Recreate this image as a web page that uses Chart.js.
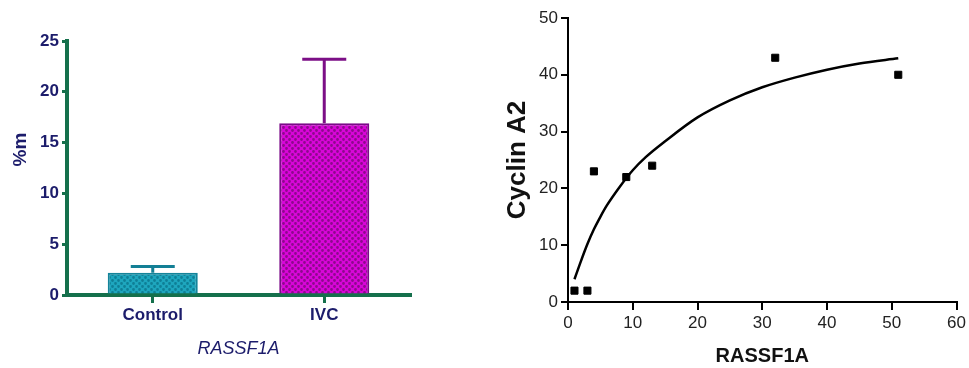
<!DOCTYPE html>
<html>
<head>
<meta charset="utf-8">
<script src="https://cdn.jsdelivr.net/npm/chart.js@4.4.0/dist/chart.umd.min.js"></script>
<style>
	body { margin: 0; background: #fff; width: 969px; height: 368px; position: relative; overflow: hidden; }
	#barChart { position: absolute; left: 0; top: 0; }
	#scatterChart { position: absolute; left: 480px; top: 0; }
</style>
</head>
<body>
<canvas id="barChart" width="440" height="368"></canvas>
<canvas id="scatterChart" width="489" height="368"></canvas>
<script>
// left panel: bar + SEM
const groups = [ 'Control', 'IVC' ]
const groupMeans = [ 2.2, 16.9 ]
const groupErrors = [ 0.6, 6.3 ]

// right panel: scatter + fitted curve
const rassf1a = [ 1, 3, 4, 9, 13, 32, 51 ]
const cyclinA2 = [ 2, 2, 23, 22, 24, 43, 40 ]
const fitX = [ 1, 2, 3, 4, 5, 6, 8, 10, 12, 15, 20, 25, 30, 35, 40, 45, 51 ]
const fitY = [ 4, 7.2, 10.2, 12.8, 15, 17, 20.3, 23.2, 25.5, 28.3, 32.5, 35.5, 37.8, 39.5, 40.9, 42, 42.9 ]

const green = '#15704c'
const navy = '#1c1c6b'

Chart.defaults.font.family = '"Liberation Sans", Arial, sans-serif'
Chart.defaults.animation = false

const makePattern = (base, dot) => {
	const c = document.createElement( 'canvas' )
	c.width = 6
	c.height = 6
	const g = c.getContext( '2d' )
	g.fillStyle = base
	g.fillRect( 0, 0, 6, 6 )
	g.fillStyle = dot
	g.beginPath()
	g.arc( 1.5, 1.5, 1.4, 0, Math.PI * 2 )
	g.arc( 4.5, 4.5, 1.4, 0, Math.PI * 2 )
	g.fill()
	return g.createPattern( c, 'repeat' )
}

const errorColors = [ '#137f95', '#7c0f86' ]
const errorBars = {
	id: 'errorBars',
	afterDatasetsDraw (chart) {
		const { ctx, scales: { y } } = chart
		const meta = chart.getDatasetMeta( 0 )
		ctx.save()
		ctx.lineWidth = 3
		meta.data.forEach( (bar, i) => {
			const base = y.getPixelForValue( groupMeans[i] )
			const top = y.getPixelForValue( groupMeans[i] + groupErrors[i] )
			ctx.strokeStyle = errorColors[i]
			ctx.beginPath()
			ctx.moveTo( bar.x, base )
			ctx.lineTo( bar.x, top )
			ctx.moveTo( bar.x - 22, top )
			ctx.lineTo( bar.x + 22, top )
			ctx.stroke()
		} )
		ctx.restore()
	}
}

new Chart( document.getElementById( 'barChart' ), {
	type: 'bar',
	data: {
		labels: groups,
		datasets: [ {
			data: groupMeans,
			backgroundColor: [
				makePattern( '#1ea6be', '#0f7f96' ),
				makePattern( '#d806d8', '#8c0a8c' )
			],
			borderColor: [ '#14849a', '#7a0a88' ],
			borderWidth: 2,
			barPercentage: 0.525,
			categoryPercentage: 1
		} ]
	},
	options: {
		responsive: false,
		layout: { padding: { top: 41, right: 30, left: 0, bottom: 0 } },
		plugins: {
			legend: { display: false },
			tooltip: { enabled: false }
		},
		scales: {
			x: {
				z: 1,
				afterFit: (scale) => { scale.height = 73 },
				grid: { display: true, offset: false, drawOnChartArea: false, tickLength: 8, color: green, lineWidth: 3 },
				border: { color: green, width: 4 },
				ticks: { color: navy, font: { size: 17, weight: 'bold' }, padding: 2 },
				title: {
					display: true,
					text: 'RASSF1A',
					color: navy,
					font: { size: 18, style: 'italic' },
					padding: { top: 0, bottom: 8 }
				}
			},
			y: {
				z: 1,
				min: 0,
				max: 25,
				afterFit: (scale) => { scale.width = 67 },
				grid: { display: true, drawOnChartArea: false, tickLength: 5, color: green, lineWidth: 3 },
				border: { color: green, width: 4 },
				ticks: { stepSize: 5, color: navy, font: { size: 17, weight: 'bold' }, padding: 3 },
				title: {
					display: true,
					text: '\u00a0\u00a0\u00a0\u00a0\u00a0\u00a0\u00a0%m',
					color: navy,
					font: { size: 19, weight: 'bold' },
					padding: { top: 9, bottom: 0 }
				}
			}
		}
	},
	plugins: [ errorBars ]
} )

new Chart( document.getElementById( 'scatterChart' ), {
	type: 'scatter',
	data: {
		datasets: [
			{
				type: 'line',
				data: fitX.map( (x, i) => ({ x, y: fitY[i] }) ),
				borderColor: '#000',
				borderWidth: 2.5,
				pointRadius: 0,
				cubicInterpolationMode: 'monotone',
				fill: false
			},
			{
				data: rassf1a.map( (x, i) => ({ x, y: cyclinA2[i] }) ),
				backgroundColor: '#000',
				borderColor: '#000',
				pointStyle: 'rect',
				pointRadius: 5
			}
		]
	},
	options: {
		responsive: false,
		layout: { padding: { top: 18, right: 11, left: 0, bottom: 0 } },
		plugins: {
			legend: { display: false },
			tooltip: { enabled: false }
		},
		scales: {
			x: {
				type: 'linear',
				min: 0,
				max: 60,
				afterFit: (scale) => { scale.height = 66 },
				grid: { display: true, drawOnChartArea: false, tickLength: 8, color: '#000', lineWidth: 2 },
				border: { color: '#000', width: 2 },
				ticks: { stepSize: 10, color: '#222', font: { size: 17 }, padding: 3 },
				title: {
					display: true,
					text: 'RASSF1A',
					color: '#111',
					font: { size: 20, weight: 'bold' },
					padding: { top: 0, bottom: 0 }
				}
			},
			y: {
				min: 0,
				max: 50,
				afterFit: (scale) => { scale.width = 88 },
				grid: { display: true, drawOnChartArea: false, tickLength: 7, color: '#000', lineWidth: 2 },
				border: { color: '#000', width: 2 },
				ticks: { stepSize: 10, color: '#222', font: { size: 17 }, padding: 3 },
				title: {
					display: true,
					text: 'Cyclin A2',
					color: '#111',
					font: { size: 26, weight: 'bold' },
					padding: { top: 22, bottom: 0 }
				}
			}
		}
	}
} )
</script>
</body>
</html>
